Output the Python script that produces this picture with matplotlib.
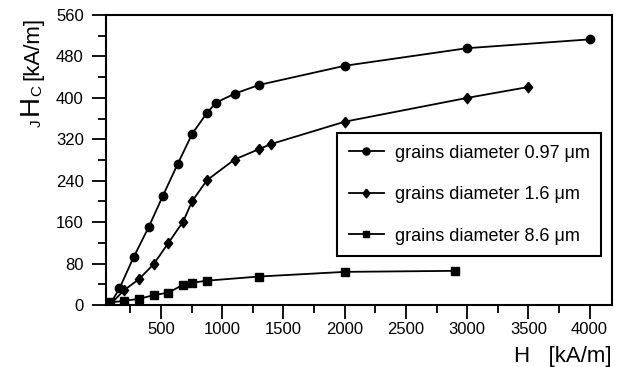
import matplotlib
matplotlib.use("Agg")
import matplotlib.pyplot as plt
from matplotlib.ticker import MultipleLocator

# grains diameter 0.97 um
h_097 = [80, 160, 275, 400, 515, 635, 755, 875, 950, 1100, 1300, 2000, 3000, 4000]
hc_097 = [0, 32, 92, 151, 211, 272, 331, 371, 391, 408, 425, 462, 496, 513]

# grains diameter 1.6 um
h_16 = [80, 200, 320, 440, 560, 680, 755, 875, 1100, 1300, 1400, 2000, 3000, 3500]
hc_16 = [0, 29, 50, 79, 120, 161, 201, 241, 281, 301, 311, 354, 400, 421]

# grains diameter 8.6 um
h_86 = [80, 200, 320, 440, 560, 680, 755, 875, 1300, 2000, 2900]
hc_86 = [5, 8, 12, 19, 24, 39, 43, 47, 55, 64, 66]

labels = ["grains diameter 0.97 μm", "grains diameter 1.6 μm", "grains diameter 8.6 μm"]

plt.rcParams["font.family"] = ["Liberation Sans", "DejaVu Sans"]

W, H = 619, 367
fig = plt.figure(figsize=(W / 100, H / 100), dpi=100)
ax = fig.add_axes([0.1712, 0.1689, 0.8168, 0.7901])

diamond = [(0, 1), (0.8, 0), (0, -1), (-0.8, 0), (0, 1)]
ax.plot(h_097, hc_097, color="black", lw=1.3, marker="o", ms=6, label=labels[0])
ax.plot(h_16, hc_16, color="black", lw=1.3, marker=diamond, ms=7.5, label=labels[1])
ax.plot(h_86, hc_86, color="black", lw=1.3, marker="s", ms=5.5, label=labels[2])

ax.set_xlim(50, 4180)
ax.set_ylim(0, 560)
ax.xaxis.set_major_locator(MultipleLocator(500))
ax.xaxis.set_minor_locator(MultipleLocator(250))
ax.yaxis.set_major_locator(MultipleLocator(80))
ax.yaxis.set_minor_locator(MultipleLocator(40))
ax.set_xticks([500, 1000, 1500, 2000, 2500, 3000, 3500, 4000])

for s in ax.spines.values():
    s.set_linewidth(1.5)
ax.tick_params(axis="both", which="major", direction="out", length=10, width=1.3, labelsize=12)
ax.tick_params(axis="both", which="minor", direction="out", length=5.5, width=1.3)
ax.tick_params(axis="x", which="major", pad=2)
ax.tick_params(axis="y", which="major", pad=6)

ax.set_xlabel("H   [kA/m]", fontsize=16, loc="right")
ax.xaxis.set_label_coords(1.0, -0.143)

# y label: J H C [kA/m], built from pieces to get the sizes right
def ylab(txt, x, y, size):
    fig.text(x / W, 1 - y / H, txt, fontsize=size, rotation=90,
             rotation_mode="anchor", ha="left", va="baseline")

ylab("J", 41, 127, 11)
ylab("H", 38, 115, 20)
ylab("C", 41, 96, 11)
ylab("[kA/m]", 38, 80, 16)

leg = ax.legend(loc="upper left", bbox_to_anchor=(0.457, 0.593), fontsize=13,
                frameon=True, fancybox=False, edgecolor="black", framealpha=1,
                handlelength=1.95, handletextpad=0.6, labelspacing=1.35,
                borderpad=0.65, borderaxespad=0, markerscale=0.85)
leg.get_frame().set_linewidth(1.5)

fig.savefig("out.png", dpi=100)
